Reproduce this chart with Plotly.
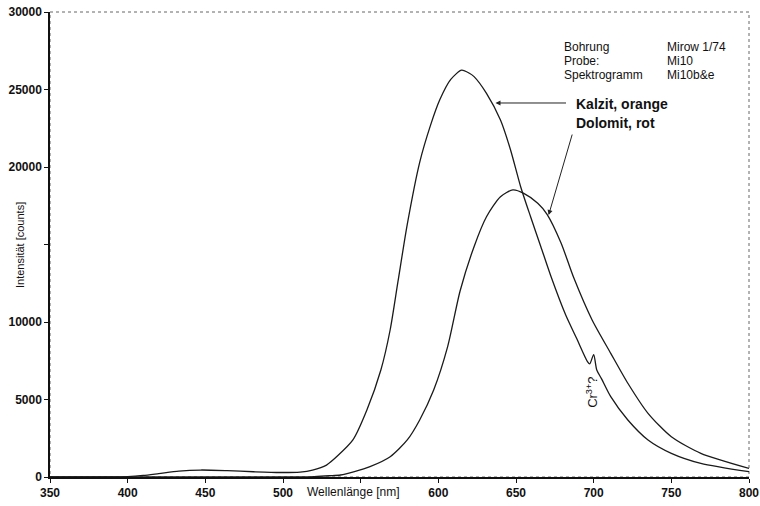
import plotly.graph_objects as go

# Kalzit (orange) spectrum
kalzit_wl = [350, 380, 400, 410, 420, 433, 447, 464, 481, 498, 511, 519, 528, 535, 545, 554, 563, 569,
             574, 580, 588, 595, 601, 608, 615, 620, 623, 631, 640, 646.5, 653, 659.4, 666, 672.3, 682,
             689, 696, 697.5, 700, 702, 705, 711, 722, 735, 750, 769, 800]
kalzit_val = [0, 0, 30, 100, 220, 380, 450, 410, 340, 290, 320, 450, 770, 1350, 2390, 4320, 6900, 9500,
              12600, 16300, 20300, 22700, 24350, 25650, 26250, 26050, 25830, 24750, 23030, 21100, 18730, 16790, 14860, 13000, 10450,
              8950, 7450, 7300, 7900, 6900, 6350, 5180, 3680, 2390, 1530, 880, 340]

# Dolomit (rot) spectrum
dolomit_wl = [350, 500, 520, 530, 537, 546, 556, 569, 580, 588, 597, 606, 614, 623, 631, 640, 648, 655,
              664, 670, 679, 687, 699, 711, 722, 735, 750, 769, 800]
dolomit_val = [0, 0, 30, 80, 130, 350, 670, 1310, 2390, 3680, 5610, 8410, 12000, 14860, 16790, 18080, 18520, 18300,
               17660, 16950, 15100, 12900, 10130, 7980, 6050, 4110, 2600, 1530, 560]

x_ticks = [350, 400, 450, 500, 550, 600, 650, 700, 750, 800]
x_ticktext = ["350", "400", "450", "500", "", "600", "650", "700", "750", "800"]
y_ticks = [0, 5000, 10000, 15000, 20000, 25000, 30000]
y_ticktext = ["0", "5000", "10000", "", "20000", "25000", "30000"]

FONT = "Arial, Liberation Sans, sans-serif"

fig = go.Figure()
fig.add_trace(go.Scatter(x=kalzit_wl, y=kalzit_val, mode="lines",
                         line=dict(color="#1a1a1a", width=1.3, shape="spline", smoothing=0.7), showlegend=False))
fig.add_trace(go.Scatter(x=dolomit_wl, y=dolomit_val, mode="lines",
                         line=dict(color="#1a1a1a", width=1.3, shape="spline", smoothing=0.7), showlegend=False))

# dotted frame (top/right)
fig.add_shape(type="rect", xref="paper", yref="paper", x0=0, y0=0, x1=1, y1=1,
              line=dict(color="#666666", width=1, dash="dot"), layer="below")

fig.update_layout(
    width=760, height=506,
    margin=dict(l=50, r=11, t=12, b=29),
    paper_bgcolor="white", plot_bgcolor="white",
    font=dict(family=FONT, color="#111111"),
    xaxis=dict(range=[350, 800], tickvals=x_ticks, ticktext=x_ticktext, automargin=False,
               showgrid=False, zeroline=False, showline=True, linecolor="#111111", linewidth=1.5,
               ticks="outside", ticklen=4, tickcolor="#111111",
               tickfont=dict(size=12, weight="bold", family=FONT)),
    yaxis=dict(range=[0, 30000], tickvals=y_ticks, ticktext=y_ticktext, automargin=False,
               showgrid=False, zeroline=False, showline=True, linecolor="#111111", linewidth=1.5,
               ticks="outside", ticklen=4, tickcolor="#111111",
               tickfont=dict(size=12, weight="bold", family=FONT)),
)

ann = []
# axis titles
ann.append(dict(text="Wellenlänge [nm]", xref="paper", yref="paper", x=(353 - 50) / 699, y=(477 - 492) / 465,
                showarrow=False, xanchor="center", yanchor="middle", font=dict(size=12, family=FONT)))
ann.append(dict(text="Intensität [counts]", xref="paper", yref="paper", x=(20 - 50) / 699, y=(477 - 245) / 465,
                showarrow=False, xanchor="center", yanchor="middle", textangle=-90, font=dict(size=11, family=FONT)))

# info block
info_left = ["Bohrung", "Probe:", "Spektrogramm"]
info_right = ["Mirow 1/74", "Mi10", "Mi10b&e"]
info_y = [47, 61, 75]
for l, r, yy in zip(info_left, info_right, info_y):
    ann.append(dict(text=l, xref="paper", yref="paper", x=(562 - 50) / 699, y=(477 - yy) / 465,
                    showarrow=False, xanchor="left", yanchor="middle", font=dict(size=12, family=FONT)))
    ann.append(dict(text=r, xref="paper", yref="paper", x=(665 - 50) / 699, y=(477 - yy) / 465,
                    showarrow=False, xanchor="left", yanchor="middle", font=dict(size=12, family=FONT)))

ann.append(dict(text="<b>Kalzit, orange</b>", xref="paper", yref="paper", x=(574 - 50) / 699, y=(477 - 104) / 465,
                showarrow=False, xanchor="left", yanchor="middle", font=dict(size=14, family=FONT)))
ann.append(dict(text="<b>Dolomit, rot</b>", xref="paper", yref="paper", x=(574 - 50) / 699, y=(477 - 123) / 465,
                showarrow=False, xanchor="left", yanchor="middle", font=dict(size=14, family=FONT)))

# arrows
ann.append(dict(text="", x=636.8, y=24130, xref="x", yref="y", ax=72, ay=0,
                showarrow=True, arrowhead=2, arrowsize=1, arrowwidth=1, arrowcolor="#222222"))
ann.append(dict(text="", x=671, y=16900, xref="x", yref="y", ax=24, ay=-82,
                showarrow=True, arrowhead=2, arrowsize=1, arrowwidth=1, arrowcolor="#222222"))

# Cr3+ label
ann.append(dict(text="Cr<sup>3+</sup>?", x=698.8, y=5480, xref="x", yref="y", showarrow=False,
                textangle=-90, xanchor="center", yanchor="middle", font=dict(size=13, family=FONT)))

fig.update_layout(annotations=ann)
fig.write_html("out.html")
